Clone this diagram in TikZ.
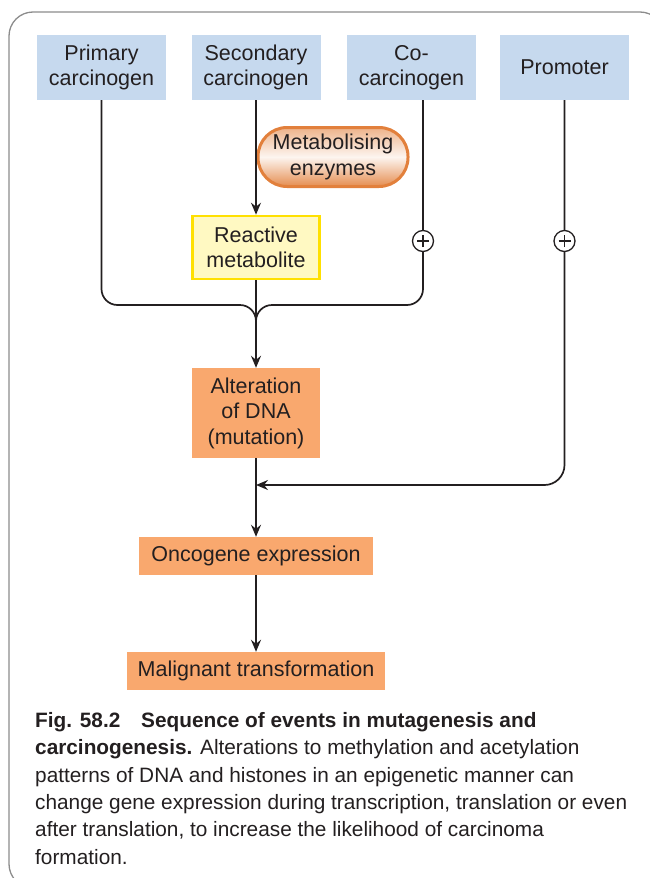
\documentclass[tikz,border=0pt]{standalone}
\usepackage{fontspec}
\setmainfont{Liberation Sans}
\usetikzlibrary{arrows.meta}
\definecolor{ink}{HTML}{231F20}
\definecolor{bluebox}{HTML}{C6D9EE}
\definecolor{orangebox}{HTML}{F9A86E}
\definecolor{yelfill}{HTML}{FFF9C2}
\definecolor{yeldraw}{HTML}{FFE000}
\definecolor{pilldraw}{HTML}{E2803C}
\definecolor{frame}{HTML}{8C8C8C}
\tikzset{
  lbl/.style={font=\fontsize{21.5}{25.5}\selectfont, text=ink, align=center, inner sep=0pt},
  srcbox/.style={lbl, fill=bluebox, minimum width=129pt, minimum height=65pt},
  orbox/.style={lbl, fill=orangebox},
  conn/.style={draw=ink, line width=1.7pt},
  arr/.style={conn, -{Stealth[length=12pt,width=10pt,inset=4pt]}},
  plus/.style={circle, draw=ink, line width=1.3pt, fill=white, minimum size=21pt, inner sep=0pt}
}
\begin{document}
\begin{tikzpicture}[x=1pt,y=-1pt]
\useasboundingbox (0,0) rectangle (650,878);
\draw[frame, line width=1.3pt, rounded corners=24pt] (9,12) rectangle (664,888);

% source boxes
\node[srcbox] (prim) at (101.5,67.5) {Primary\\carcinogen};
\node[srcbox] (sec) at (256,67.5) {Secondary\\carcinogen};
\node[srcbox] (co) at (411.5,67.5) {Co-\\carcinogen};
\node[srcbox] (prom) at (564.5,67.5) {Promoter};

% metabolising enzymes pill
\node[lbl, draw=pilldraw, line width=3pt, rounded corners=29pt,
      minimum width=150pt, minimum height=59pt,
      top color=pilldraw!60, bottom color=pilldraw!90, middle color=pilldraw!8]
      (enz) at (333,157) {Metabolising\\enzymes};

% reactive metabolite
\node[lbl, fill=yelfill, draw=yeldraw, line width=2.6pt,
      minimum width=127pt, minimum height=63pt] (react) at (256,247.5) {Reactive\\metabolite};

% alteration
\node[orbox, minimum width=128pt, minimum height=90pt] (alt) at (256,413) {Alteration\\of DNA\\(mutation)};
\node[orbox, minimum width=234pt, minimum height=38pt] (onc) at (256,556) {Oncogene expression};
\node[orbox, minimum width=258pt, minimum height=38pt] (mal) at (256,671) {Malignant transformation};

% coordinates
\coordinate (cotop) at ([xshift=11.5pt]co.south);
\coordinate (join) at (256,305);
\coordinate (jbot) at (256,335);
\coordinate (pj) at (256,485);

% connectors
\draw[arr] (sec.south) -- (react.north);
\draw[conn, rounded corners=16pt] (prim.south) |- (join) -- (jbot);
\draw[conn, rounded corners=16pt] (cotop) |- (join) -- (jbot);
\draw[arr] (react.south) -- (alt.north);
\draw[arr, rounded corners=20pt] (prom.south) |- (pj);
\draw[arr] (alt.south) -- (onc.north);
\draw[arr] (onc.south) -- (mal.north);

% plus signs
\node[plus] (p1) at (423,241) {};
\node[plus] (p2) at (564.5,241) {};
\foreach \p in {p1,p2}{
  \draw[ink, line width=1.4pt] ([xshift=-6pt]\p.center) -- ([xshift=6pt]\p.center);
  \draw[ink, line width=1.4pt] ([yshift=-6pt]\p.center) -- ([yshift=6pt]\p.center);
}

% caption
\node[anchor=north west, inner sep=0pt, align=left, text=ink,
      font=\fontsize{20.8}{27.4}\selectfont] (cap) at (35,712)
{\textbf{Fig. 58.2}\quad\textbf{Sequence of events in mutagenesis and}\\
\textbf{carcinogenesis.} Alterations to methylation and acetylation\\
patterns of DNA and histones in an epigenetic manner can\\
change gene expression during transcription, translation or even\\
after translation, to increase the likelihood of carcinoma\\
formation.};
\end{tikzpicture}
\end{document}
